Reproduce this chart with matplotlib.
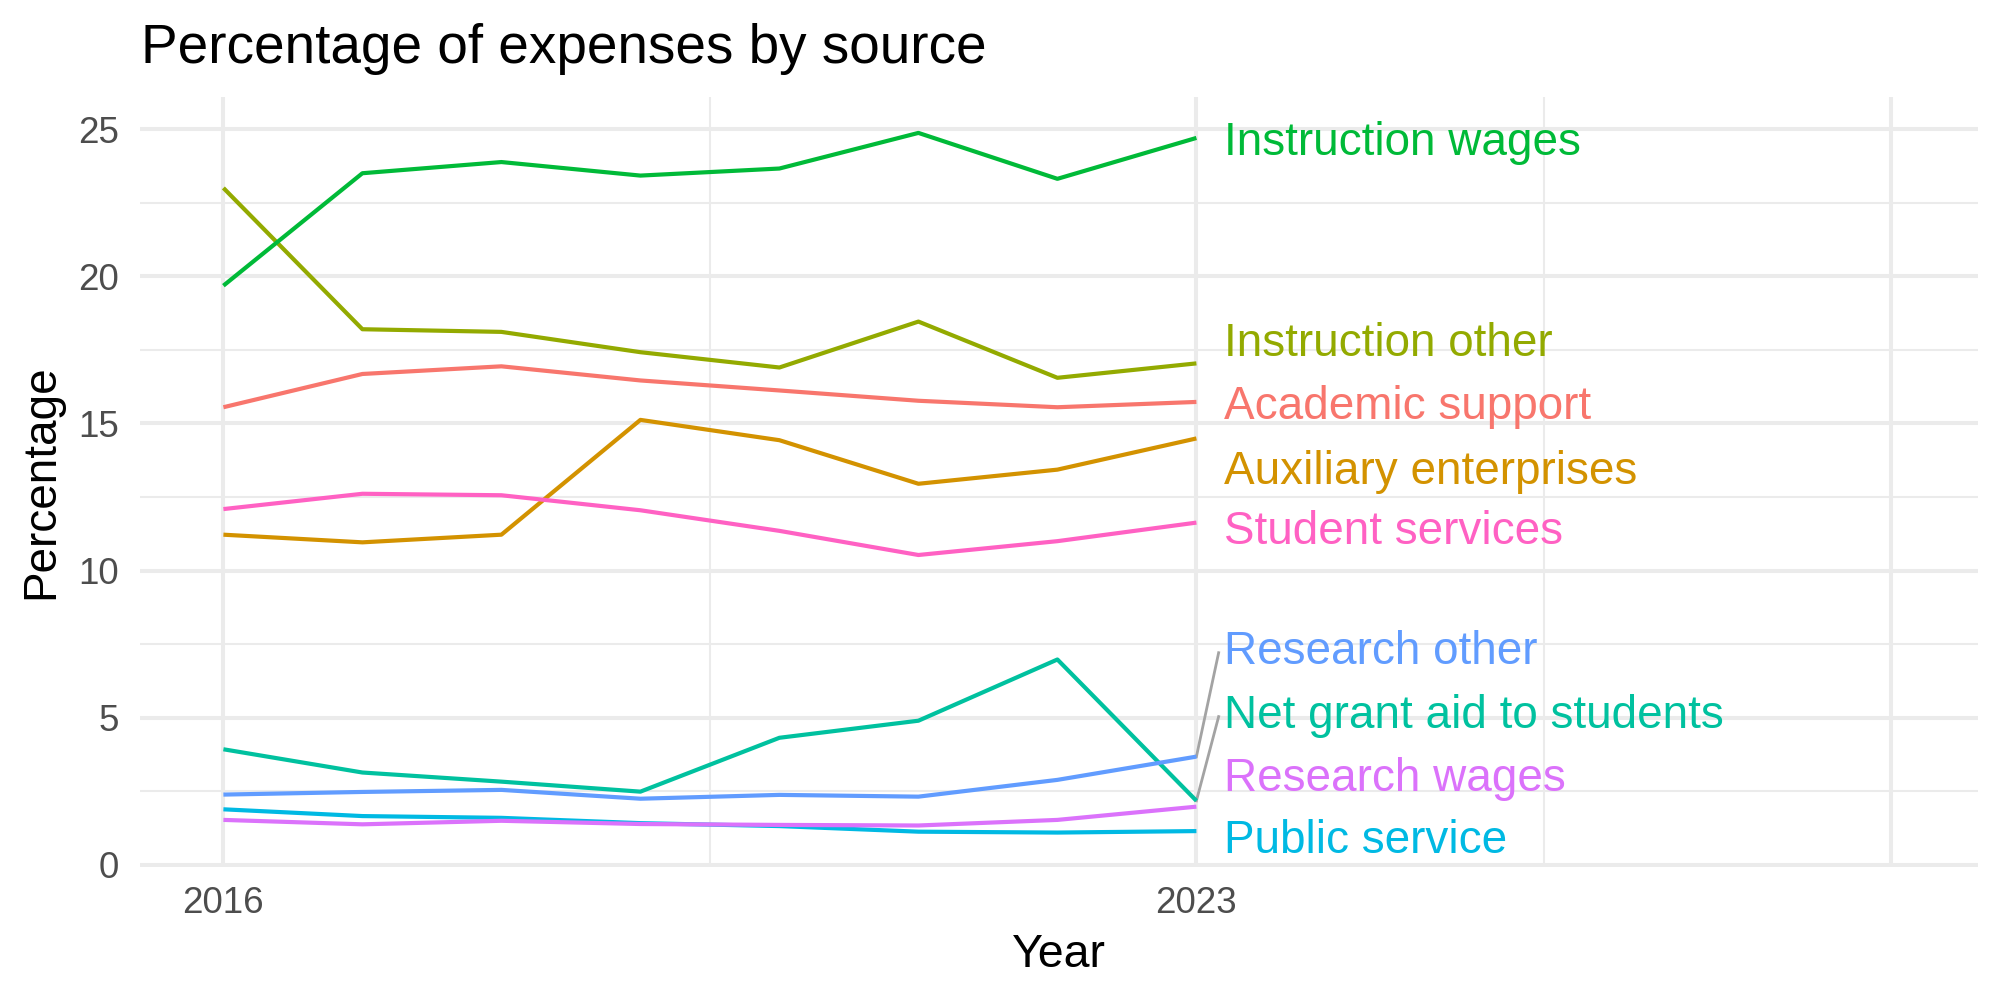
import numpy as np
import matplotlib
matplotlib.use("Agg")
import matplotlib.pyplot as plt

plt.rcParams['font.family'] = ['Liberation Sans', 'DejaVu Sans']

years = [2016, 2017, 2018, 2019, 2020, 2021, 2022, 2023]

sources = ["Academic support", "Auxiliary enterprises", "Instruction other",
           "Instruction wages", "Net grant aid to students", "Public service",
           "Research other", "Research wages", "Student services"]

academic_support = [15.55, 16.68, 16.94, 16.46, 16.12, 15.77, 15.55, 15.73]
auxiliary_enterprises = [11.22, 10.96, 11.22, 15.12, 14.43, 12.95, 13.43, 14.49]
instruction_other = [23.00, 18.20, 18.11, 17.42, 16.90, 18.46, 16.55, 17.04]
instruction_wages = [19.68, 23.50, 23.88, 23.42, 23.66, 24.87, 23.31, 24.70]
net_grant_aid = [3.93, 3.14, 2.83, 2.49, 4.32, 4.90, 6.98, 2.18]
public_service = [1.89, 1.66, 1.60, 1.42, 1.32, 1.13, 1.10, 1.15]
research_other = [2.39, 2.48, 2.55, 2.25, 2.38, 2.32, 2.89, 3.68]
research_wages = [1.53, 1.38, 1.50, 1.39, 1.36, 1.34, 1.53, 1.98]
student_services = [12.09, 12.61, 12.56, 12.05, 11.35, 10.53, 11.00, 11.63]

values = [academic_support, auxiliary_enterprises, instruction_other,
          instruction_wages, net_grant_aid, public_service,
          research_other, research_wages, student_services]

# ggplot hue palette, 9 levels
colors = ["#F8766D", "#D39200", "#93AA00", "#00BA38", "#00C19F",
          "#00B9E3", "#619CFF", "#DB72FB", "#FF61C3"]

# where the repelled labels ended up (y, in data units)
label_y = [15.73, 13.52, 17.87, 24.70, 5.22, 0.98, 7.39, 3.09, 11.48]

fig = plt.figure(figsize=(20, 10), dpi=100)
ax = fig.add_axes([0.07, 0.133, 0.9188, 0.770])

ax.set_xlim(2015.4, 2028.62)
ax.set_ylim(-0.07, 26.09)

# grid like theme_minimal
for x in [2016, 2023, 2028]:
    ax.axvline(x, color="#EBEBEB", lw=2.9, zorder=0)
for x in [2019.5, 2025.5]:
    ax.axvline(x, color="#EBEBEB", lw=1.45, zorder=0)
for y in range(0, 26, 5):
    ax.axhline(y, color="#EBEBEB", lw=2.9, zorder=0)
for y in np.arange(2.5, 25, 5):
    ax.axhline(y, color="#EBEBEB", lw=1.45, zorder=0)

for name, vals, col in zip(sources, values, colors):
    ax.plot(years, vals, color=col, lw=3.0, solid_capstyle="butt", zorder=2)

lab_x = 2023.2
for name, vals, col, ly in zip(sources, values, colors, label_y):
    if abs(ly - vals[-1]) > 1.5:
        ax.plot([years[-1], lab_x - 0.04], [vals[-1], ly - 0.18], color="#A3A3A3",
                lw=2.0, zorder=1)
    ax.text(lab_x, ly, name, color=col, fontsize=33, ha="left",
            va="center_baseline", zorder=3)

ax.set_xticks([2016, 2023])
ax.set_xticklabels(["2016", "2023"])
ax.set_yticks([0, 5, 10, 15, 20, 25])
ax.tick_params(length=0, labelsize=26.5, labelcolor="#4D4D4D")
ax.tick_params(axis="x", pad=14)
ax.tick_params(axis="y", pad=15)
for s in ax.spines.values():
    s.set_visible(False)

fig.text(0.0705, 1 - 0.063, "Percentage of expenses by source", fontsize=39.5,
         ha="left", va="baseline")
fig.text(0.5295, 1 - 0.967, "Year", fontsize=33.5, ha="center", va="baseline")
fig.text(0.0205, 0.518, "Percentage", fontsize=33, ha="center", va="center",
         rotation=90)

fig.savefig("out.png", dpi=100)
